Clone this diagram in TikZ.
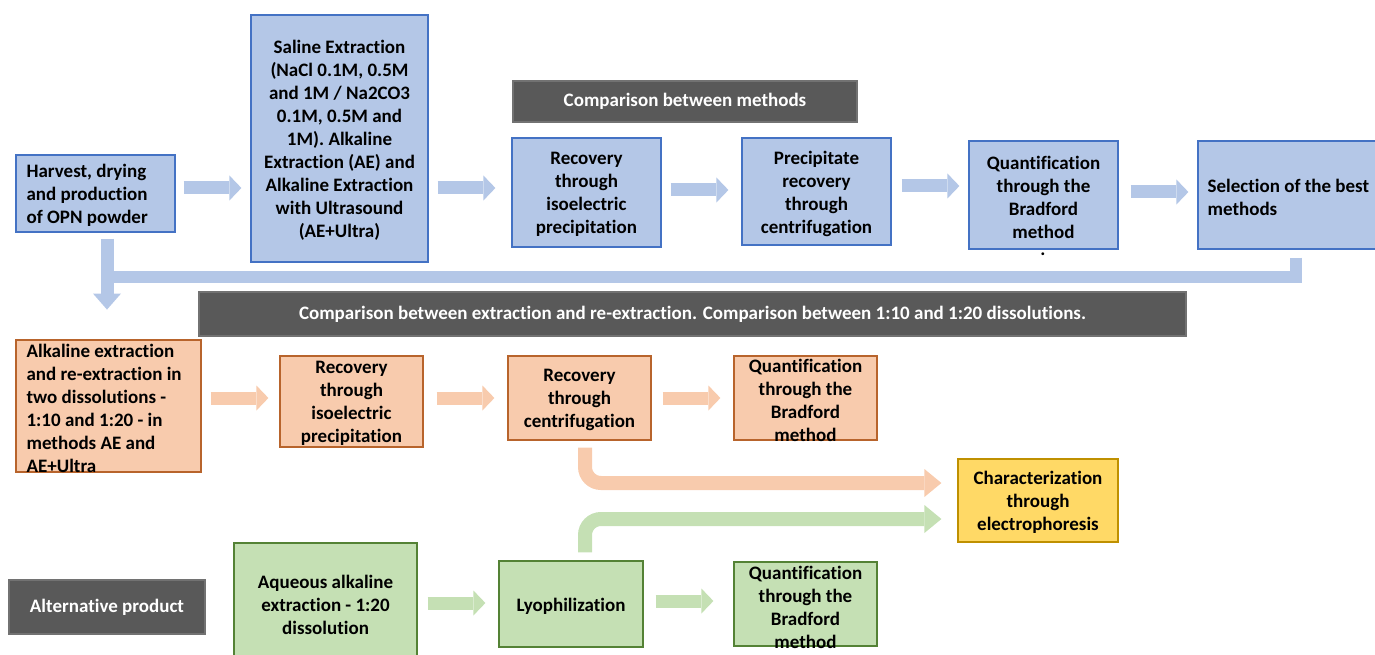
\documentclass[tikz,border=0pt]{standalone}
\usepackage{fontspec}
\setmainfont{Carlito}[Ligatures=NoCommon]
\usetikzlibrary{arrows.meta,calc}
\definecolor{bfill}{HTML}{B4C7E7}
\definecolor{bdraw}{HTML}{4472C4}
\definecolor{ofill}{HTML}{F8CBAD}
\definecolor{odraw}{HTML}{B8642C}
\definecolor{gfill}{HTML}{C5E0B4}
\definecolor{gdraw}{HTML}{548235}
\definecolor{yfill}{HTML}{FFD966}
\definecolor{ydraw}{HTML}{BF9000}
\definecolor{dgray}{HTML}{595959}
\begin{document}
\begin{tikzpicture}[x=1pt,y=1pt,
  box/.style={rectangle, line width=1.2pt, inner sep=0pt},
  bbox/.style={box, fill=bfill, draw=bdraw},
  obox/.style={box, fill=ofill, draw=odraw},
  gbox/.style={box, fill=gfill, draw=gdraw},
  ybox/.style={box, fill=yfill, draw=ydraw},
  darkbox/.style={box, fill=dgray, draw=dgray!85!white, text=white, font=\fontsize{19}{23}\selectfont\bfseries},
  txt/.style={inner sep=0pt, align=center, text=black, yshift=-2pt, font=\fontsize{19}{23}\selectfont\bfseries},
  ltxt/.style={txt, align=left, anchor=west},
  flow/.style={line width=13pt, -{Triangle[length=12pt,width=25pt,line width=0pt]}},
  bentflow/.style={line width=14pt, rounded corners=16pt, -{Triangle[length=17pt,width=28pt,line width=0pt]}},
]
\useasboundingbox (0,0) rectangle (1375,-655);
\clip (0,0) rectangle (1375,-655);

% ---------- row 1 (blue) ----------
\node[bbox, minimum width=159pt, minimum height=77pt] (harvest) at (95.5,-193.5) {};
\node[ltxt] at ([xshift=11pt]harvest.west) {Harvest, drying\\and production\\of OPN powder};

\node[bbox, minimum width=177pt, minimum height=247pt] (saline) at (339.5,-138.5) {};
\node[txt] at (saline.center) {Saline Extraction\\(NaCl 0.1M, 0.5M\\and 1M / Na2CO3\\0.1M, 0.5M and\\1M). Alkaline\\Extraction (AE) and\\Alkaline Extraction\\with Ultrasound\\(AE+Ultra)};

\node[darkbox, minimum width=344pt, minimum height=41pt] (cmp1) at (685,-101.5) {Comparison between methods};

\node[bbox, minimum width=149pt, minimum height=109pt] (recov1) at (586.5,-192.5) {};
\node[txt] at (recov1.center) {Recovery\\through\\isoelectric\\precipitation};

\node[bbox, minimum width=149pt, minimum height=107pt] (precip) at (816.5,-191.5) {};
\node[txt] at (precip.center) {Precipitate\\recovery\\through\\centrifugation};

\node[bbox, minimum width=149pt, minimum height=108pt] (quant1) at (1043.5,-195) {};
\node[txt] at (quant1.center) {Quantification\\through the\\Bradford\\method};
\node[txt] (dot) at (1043,-252) {.};

\node[bbox, minimum width=187pt, minimum height=108pt] (select) at (1291.5,-195) {};
\node[ltxt] at ([xshift=10pt]select.west) {Selection of the best\\methods};

% ---------- row 2 (orange) ----------
\node[darkbox, minimum width=987pt, minimum height=44pt] (cmp2) at (692.5,-314) {Comparison between extraction and re-extraction. Comparison between 1:10 and 1:20 dissolutions.};

\node[obox, minimum width=185pt, minimum height=132pt] (alk) at (108.5,-406) {};
\node[ltxt] at ([xshift=11pt]alk.west) {Alkaline extraction\\and re-extraction in\\two dissolutions -\\1:10 and 1:20 - in\\methods AE and\\AE+Ultra};

\node[obox, minimum width=143pt, minimum height=91pt] (recov2) at (351.5,-401.5) {};
\node[txt] at (recov2.center) {Recovery\\through\\isoelectric\\precipitation};

\node[obox, minimum width=143pt, minimum height=84pt] (centr) at (579.5,-398) {};
\node[txt] at (centr.center) {Recovery\\through\\centrifugation};

\node[obox, minimum width=143pt, minimum height=84pt] (quant2) at (805.5,-398) {};
\node[txt] at (quant2.center) {Quantification\\through the\\Bradford\\method};

\node[ybox, minimum width=160pt, minimum height=83pt] (charac) at (1038,-500.5) {};
\node[txt] at (charac.center) {Characterization\\through\\electrophoresis};

% ---------- row 3 (green) ----------
\node[darkbox, minimum width=196pt, minimum height=54pt] (alt) at (107,-607) {Alternative product};

\node[gbox, minimum width=183pt, minimum height=122pt] (aqueous) at (325.5,-604) {};
\node[txt] at ([yshift=1pt]aqueous.center) {Aqueous alkaline\\extraction - 1:20\\dissolution};

\node[gbox, minimum width=144pt, minimum height=86pt] (lyo) at (571,-604) {};
\node[txt] at (lyo.center) {Lyophilization};

\node[gbox, minimum width=143pt, minimum height=84pt] (quant3) at (805.5,-604) {};
\node[txt] at ([yshift=-1pt]quant3.center) {Quantification\\through the\\Bradford\\method};

% ---------- arrows ----------
\begin{scope}[draw=bfill]
\draw[flow] ([xshift=8pt,yshift=5.5pt]harvest.east) -- ([xshift=-9pt,yshift=-49.5pt]saline.west);
\draw[flow] ([xshift=9pt,yshift=-49.5pt]saline.east) -- ([xshift=-16pt,yshift=4.5pt]recov1.west);
\draw[flow] ([xshift=9pt,yshift=2.5pt]recov1.east) -- ([xshift=-13pt,yshift=1.5pt]precip.west);
\draw[flow] ([xshift=10pt,yshift=5.5pt]precip.east) -- ([xshift=-9pt,yshift=9pt]quant1.west);
\draw[flow] ([xshift=12pt,yshift=3pt]quant1.east) -- ([xshift=-9pt,yshift=3pt]select.west);
\coordinate (bcorner) at ([xshift=4.5pt,yshift=-27pt]select.south);
\coordinate (bleft) at ([xshift=11.5pt]harvest.south |- bcorner);
\draw[line width=12pt] ([xshift=4.5pt,yshift=-8pt]select.south) -- (bcorner) -- (bleft);
\draw[line width=13pt, -{Triangle[length=16pt,width=28pt,line width=0pt]}] ([xshift=11.5pt,yshift=-6pt]harvest.south) -- ([xshift=11.5pt,yshift=-77pt]harvest.south);
\end{scope}

\begin{scope}[draw=ofill]
\draw[flow] ([xshift=9pt,yshift=8pt]alk.east) -- ([xshift=-11pt,yshift=3.5pt]recov2.west);
\draw[flow] ([xshift=13pt,yshift=3.5pt]recov2.east) -- ([xshift=-13pt]centr.west);
\draw[flow] ([xshift=11pt]centr.east) -- ([xshift=-13pt]quant2.west);
\draw[bentflow] ([xshift=5.5pt,yshift=-7pt]centr.south) |- ([xshift=-16pt,yshift=17.5pt]charac.west);
\end{scope}

\begin{scope}[draw=gfill]
\draw[flow] ([xshift=10pt,yshift=1pt]aqueous.east) -- ([xshift=-13pt,yshift=1pt]lyo.west);
\draw[flow] ([xshift=12pt,yshift=3pt]lyo.east) -- ([xshift=-20pt,yshift=3pt]quant3.west);
\draw[bentflow] ([xshift=14pt,yshift=8pt]lyo.north) |- ([xshift=-16pt,yshift=-18.5pt]charac.west);
\end{scope}
\end{tikzpicture}
\end{document}
